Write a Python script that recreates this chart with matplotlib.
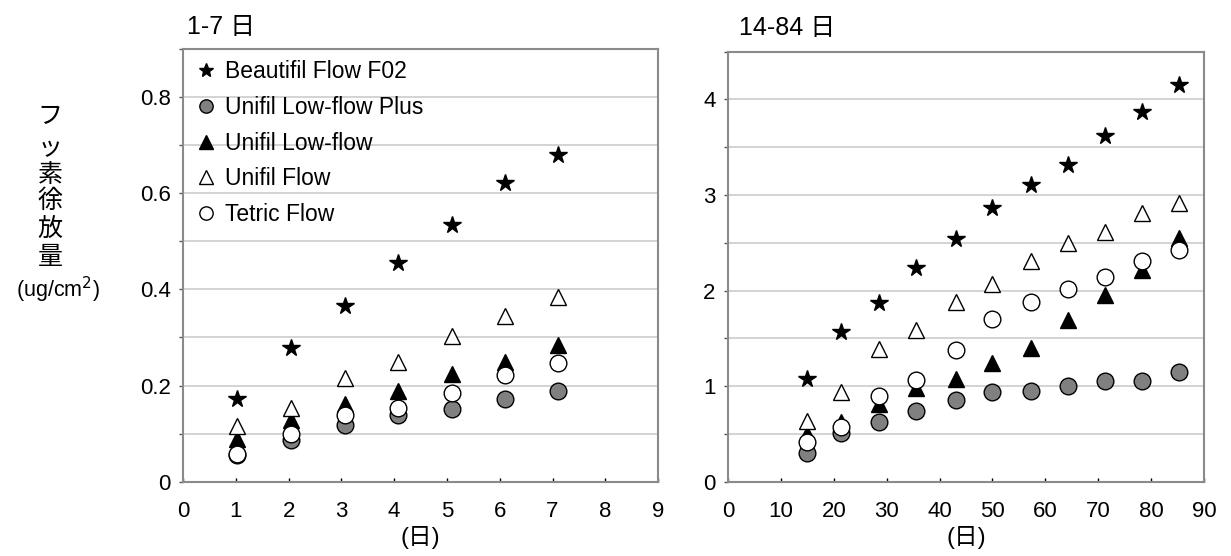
import matplotlib
matplotlib.use("Agg")
import matplotlib.pyplot as plt
from matplotlib.ticker import MultipleLocator

plt.rcParams['font.family'] = ['Liberation Sans', 'Noto Sans CJK JP', 'DejaVu Sans']

series_names = ["Beautifil Flow F02", "Unifil Low-flow Plus", "Unifil Low-flow",
                "Unifil Flow", "Tetric Flow"]

# Left panel: days 1-7
days_short = [1.02, 2.05, 3.07, 4.07, 5.1, 6.1, 7.1]
beautifil_short = [0.172, 0.279, 0.365, 0.454, 0.534, 0.622, 0.679]
lowflow_plus_short = [0.055, 0.087, 0.119, 0.138, 0.151, 0.172, 0.188]
lowflow_short = [0.089, 0.129, 0.161, 0.189, 0.224, 0.249, 0.285]
flow_short = [0.115, 0.154, 0.215, 0.250, 0.304, 0.344, 0.384]
tetric_short = [0.057, 0.099, 0.138, 0.154, 0.184, 0.221, 0.247]

# Right panel: days 14-84
days_long = [15, 21.3, 28.6, 35.5, 43.1, 50, 57.2, 64.3, 71.3, 78.3, 85.3]
beautifil_long = [1.075, 1.564, 1.872, 2.239, 2.536, 2.869, 3.106, 3.316, 3.620, 3.866, 4.152]
lowflow_plus_long = [0.298, 0.508, 0.623, 0.745, 0.857, 0.934, 0.952, 0.997, 1.049, 1.049, 1.144]
lowflow_long = [0.500, 0.630, 0.815, 0.980, 1.078, 1.242, 1.400, 1.690, 1.959, 2.214, 2.554]
flow_long = [0.637, 0.944, 1.389, 1.592, 1.882, 2.064, 2.309, 2.494, 2.613, 2.809, 2.921]
tetric_long = [0.420, 0.577, 0.892, 1.067, 1.375, 1.704, 1.878, 2.019, 2.145, 2.309, 2.424]

styles = [
    dict(marker='*', color='black', mfc='black', mec='black', ms=13),
    dict(marker='o', color='black', mfc='#808080', mec='black', ms=12, mew=1.0),
    dict(marker='^', color='black', mfc='black', mec='black', ms=12),
    dict(marker='^', color='black', mfc='white', mec='black', ms=12, mew=1.0),
    dict(marker='o', color='black', mfc='white', mec='black', ms=12, mew=1.0),
]

fig = plt.figure(figsize=(12.31, 5.56), dpi=100)
ax1 = fig.add_axes([0.1487, 0.1336, 0.3859, 0.7783])
ax2 = fig.add_axes([0.5914, 0.1336, 0.3867, 0.7734])

def style_axes(ax, xmax, xstep, ymax, ymajor, yminor):
    ax.set_xlim(0, xmax)
    ax.set_ylim(0, ymax)
    ax.xaxis.set_major_locator(MultipleLocator(xstep))
    ax.yaxis.set_major_locator(MultipleLocator(ymajor))
    ax.yaxis.set_minor_locator(MultipleLocator(yminor))
    ax.grid(True, which='both', axis='y', color='#cccccc', linewidth=1.2)
    ax.set_axisbelow(True)
    for s in ax.spines.values():
        s.set_color('#8a8a8a')
        s.set_linewidth(1.5)
    ax.tick_params(axis='x', direction='in', length=3, width=1, colors='black',
                   labelsize=16, pad=14)
    ax.tick_params(axis='y', which='both', direction='out', length=3, width=1,
                   colors='#555555', labelcolor='black', labelsize=16, pad=6)

all_short = [beautifil_short, lowflow_plus_short, lowflow_short, flow_short, tetric_short]
all_long = [beautifil_long, lowflow_plus_long, lowflow_long, flow_long, tetric_long]

for name, ys, st in zip(series_names, all_short, styles):
    ax1.plot(days_short, ys, linestyle='none', label=name, zorder=3, **st)
for name, ys, st in zip(series_names, all_long, styles):
    ax2.plot(days_long, ys, linestyle='none', zorder=3, **st)

style_axes(ax1, 9, 1, 0.9, 0.2, 0.1)
style_axes(ax2, 90, 10, 4.5, 1, 0.5)
ax1.yaxis.set_major_formatter(plt.FuncFormatter(lambda v, p: '0' if v == 0 else f'{v:.1f}'))

leg = ax1.legend(loc='upper left', frameon=False, fontsize=16.5, handletextpad=0.35,
                 labelspacing=0.55, borderaxespad=0.15, borderpad=0.35,
                 handlelength=1.0, markerscale=0.8)

ax1.set_title('1-7 日', loc='left', fontsize=18, x=0.008, pad=11)
ax2.set_title('14-84 日', loc='left', fontsize=18, x=0.023, pad=12)
ax1.set_xlabel('(日)', fontsize=17, labelpad=3)
ax2.set_xlabel('(日)', fontsize=17, labelpad=3)

ylab_chars = ['フ', 'ッ', '素', '徐', '放', '量']
ylab_y = [0.791, 0.734, 0.685, 0.638, 0.588, 0.538]
for ch, yy in zip(ylab_chars, ylab_y):
    fig.text(0.0406, yy, ch, fontsize=18, ha='center', va='center',
             family=['Noto Sans CJK JP', 'DejaVu Sans'])
fig.text(0.047, 0.478, '(ug/cm$^2$)', fontsize=15.5, ha='center', va='center')

fig.savefig('out.png', dpi=100)
